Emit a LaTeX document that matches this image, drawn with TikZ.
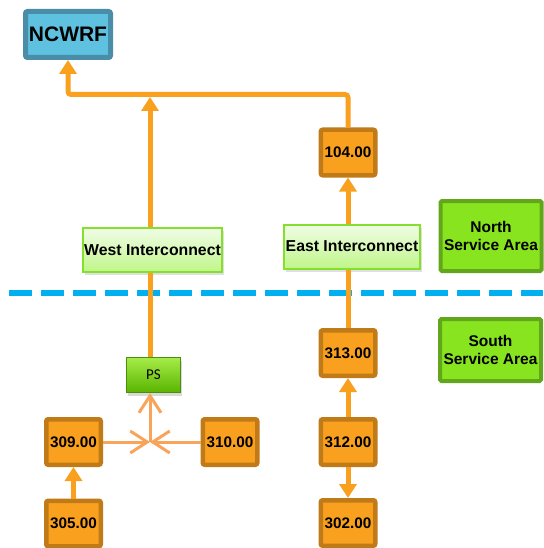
\documentclass[tikz,border=0pt]{standalone}
\usepackage{fontspec}
\setmainfont{Liberation Sans}
\newfontfamily\psfont{Carlito}
\usetikzlibrary{arrows.meta,shadows}
\definecolor{ofill}{HTML}{F9A11E}
\definecolor{oborder}{HTML}{C07A18}
\definecolor{olinecol}{HTML}{F9A11E}
\definecolor{jcol}{HTML}{F8A45A}
\definecolor{nfill}{HTML}{5EC1E0}
\definecolor{nborder}{HTML}{4A8DA8}
\definecolor{sfill}{HTML}{88E41E}
\definecolor{sborder}{HTML}{62A61B}
\definecolor{itop}{HTML}{F0FDE6}
\definecolor{ibot}{HTML}{C0F58A}
\definecolor{iborder}{HTML}{84E02A}
\definecolor{pstop}{HTML}{A6EC48}
\definecolor{psbot}{HTML}{5AB400}
\definecolor{psborder}{HTML}{4E8C10}
\definecolor{dashblue}{HTML}{00B0F0}
\tikzset{
  x=1pt, y=-1pt,
  obox/.style={draw=oborder, fill=ofill, line width=4.5pt, rounded corners=2pt,
    minimum width=54.5pt, minimum height=45.5pt, inner sep=0pt,
    font=\bfseries\fontsize{15.3}{17}\selectfont},
  nbox/.style={draw=nborder, fill=nfill, line width=5pt, rounded corners=2pt,
    minimum width=85pt, minimum height=46pt, inner sep=0pt,
    font=\bfseries\fontsize{21}{24}\selectfont},
  sbox/.style={draw=sborder, fill=sfill, line width=4pt, rounded corners=1.5pt,
    minimum width=101pt, inner sep=0pt, align=center,
    font=\bfseries\fontsize{15.5}{18}\selectfont},
  ibox/.style={draw=iborder, top color=itop, bottom color=ibot, line width=2pt,
    minimum height=44pt, inner sep=0pt,
    drop shadow={shadow xshift=1.5pt, shadow yshift=-3pt, opacity=0.25},
    font=\bfseries\fontsize{15.8}{17}\selectfont},
  psbox/.style={draw=psborder, top color=pstop, bottom color=psbot, line width=1pt,
    minimum width=54pt, minimum height=35pt, inner sep=0pt,
    drop shadow={shadow xshift=1.5pt, shadow yshift=-3pt, opacity=0.3},
    font=\psfont\fontsize{15}{16}\selectfont},
  oline/.style={draw=olinecol, line width=5pt},
  arr/.style={-{Triangle[width=17pt,length=14pt]}},
  jline/.style={draw=jcol, line width=3pt},
  barb/.style={-{Straight Barb[length=17pt,width=22pt,line width=3pt]}},
  dashline/.style={draw=dashblue, line width=6pt, dash pattern=on 23pt off 9pt, dash phase=23pt},
}
\begin{document}
\begin{tikzpicture}
\useasboundingbox (0,0) rectangle (543,548);
% coordinates
\coordinate (bus) at (150,94.5);
\coordinate (bustip) at (150,97);
\coordinate (jn) at (150,442);
\coordinate (dl) at (0,293);
\coordinate (dr) at (543,293);
\draw[dashline] (dl) -- (dr);
% nodes
\node[nbox] (ncwrf) at (68,34.5) {NCWRF};
\node[obox] (n104) at (348,152.5) {104.00};
\node[ibox, minimum width=139pt] (west) at (152.5,250) {West Interconnect};
\node[ibox, minimum width=136pt] (east) at (352,246.5) {East Interconnect};
\node[sbox, minimum height=70pt] (north) at (491,236) {North\\Service Area};
\node[sbox, minimum height=62pt] (south) at (490.5,350) {South\\Service Area};
\node[obox] (n313) at (348,353) {313.00};
\node[obox] (n312) at (348,442) {312.00};
\node[obox] (n302) at (348,523) {302.00};
\node[psbox] (ps) at (153.5,375) {PS};
\node[obox] (n309) at (73.5,442) {309.00};
\node[obox] (n310) at (230,442) {310.00};
\node[obox] (n305) at (73.5,523.5) {305.00};
% orange connectors
\draw[oline, arr, rounded corners=3pt] (n104.north) |- (bus) -| (ncwrf.south);
\draw[oline, arr] (jn |- west.north) -- (bustip);
\draw[oline] (jn |- ps.north) -- (jn |- west.south);
\draw[oline] (n313.north) -- (n313.north |- east.south);
\draw[oline, arr] (n104.south |- east.north) -- (n104.south);
\draw[oline, arr] (n312.north) -- (n313.south);
\draw[oline, arr] (n312.south) -- (n302.north);
\draw[oline, arr] (n305.north) -- (n309.south);
% junction connectors
\draw[jline, barb] (n309.east) -- (jn);
\draw[jline, barb] (n310.west) -- (jn);
\draw[jline, barb] (jn) -- (jn |- ps.south);
\end{tikzpicture}
\end{document}
